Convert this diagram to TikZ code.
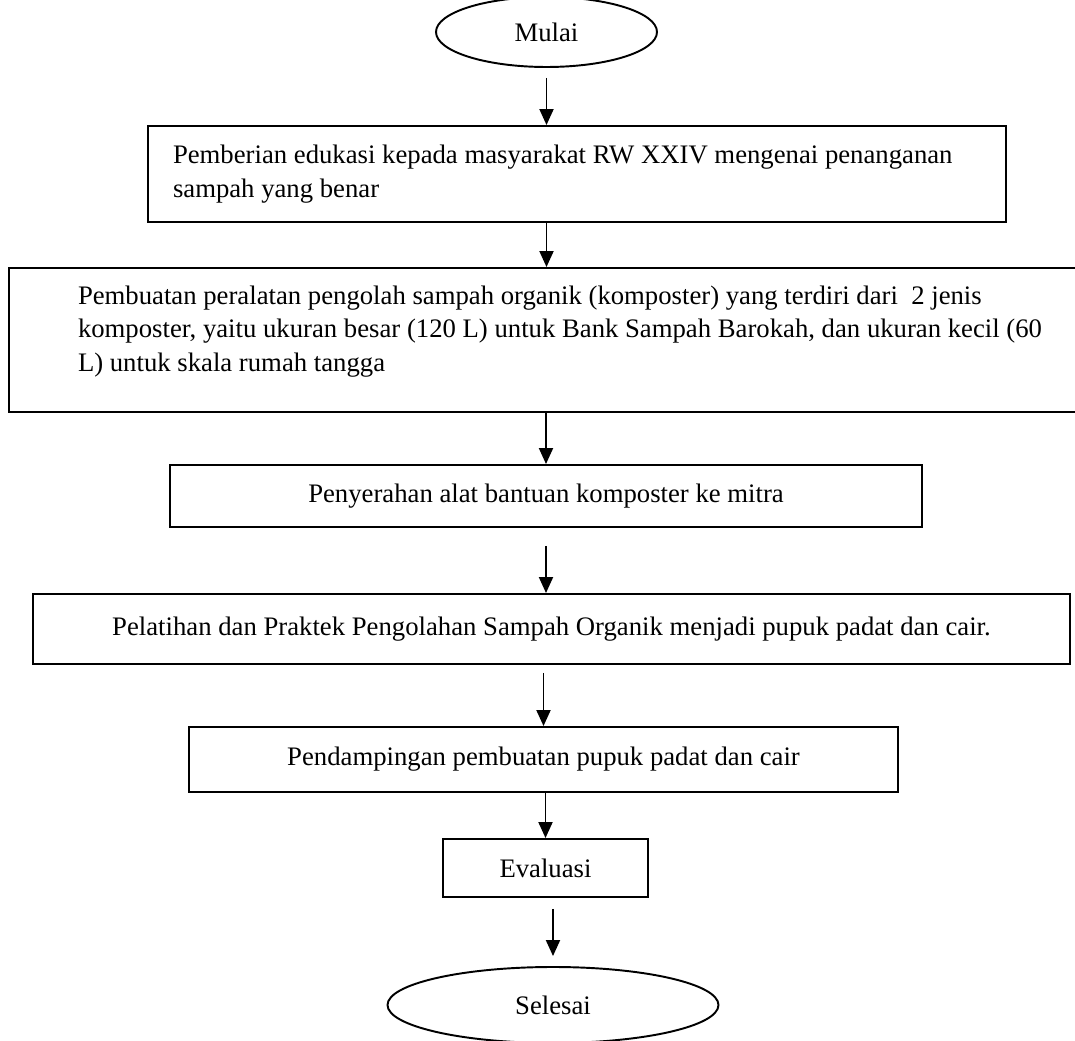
\documentclass[tikz,border=0pt]{standalone}
\usepackage{fontspec}
\setmainfont{Liberation Serif}
\usetikzlibrary{shapes.geometric}
\usetikzlibrary{arrows.meta, positioning}
\tikzset{
    terminal/.style={ellipse, draw, line width=1.1pt, inner sep=0pt},
    process/.style={rectangle, draw, line width=1.1pt, inner sep=0pt},
    flow/.style={line width=1.1pt, -{Triangle[width=0.28cm, length=0.32cm]}}
}

\begin{document}
\begin{tikzpicture}[font=\fontsize{15.2}{19.1}\selectfont]
    % Page size of the reference
    \useasboundingbox (0,0) rectangle (21.5,-20.82);
    \clip (0,0) rectangle (21.5,-20.82);

    % Start and end
    \node[terminal, minimum width=4.42cm, minimum height=1.4cm] (start) at (10.93,-0.64) {Mulai};
    \node[terminal, minimum width=6.62cm, minimum height=1.52cm] (selesai) at (11.06,-20.1) {Selesai};

    % Steps
    \node[process, minimum width=17.16cm, minimum height=1.92cm, inner xsep=0.5cm, text width=16.16cm, align=flush left] (edukasi) at (11.54,-3.48)
        {Pemberian edukasi kepada masyarakat RW XXIV mengenai penanganan\\ sampah yang benar};
    \node[process, minimum width=23.26cm, minimum height=2.88cm, inner xsep=1.38cm, text width=20.5cm, align=flush left] (komposter) at (11.81,-6.8)
        {Pembuatan peralatan pengolah sampah organik (komposter) yang terdiri dari~~2 jenis\\
         komposter, yaitu ukuran besar (120 L) untuk Bank Sampah Barokah, dan ukuran kecil (60\\
         L) untuk skala rumah tangga\par\vspace{0.34cm}\hrule height 0pt};
    \node[process, minimum width=15.04cm, minimum height=1.24cm] (penyerahan) at (10.92,-9.92)
        {Penyerahan alat bantuan komposter ke mitra};
    \node[process, minimum width=20.74cm, minimum height=1.4cm] (pelatihan) at (11.03,-12.58)
        {Pelatihan dan Praktek Pengolahan Sampah Organik menjadi pupuk padat dan cair.};
    \node[process, minimum width=14.18cm, minimum height=1.3cm] (pendampingan) at (10.87,-15.19)
        {Pendampingan pembuatan pupuk padat dan cair};
    \node[process, minimum width=4.1cm, minimum height=1.16cm] (evaluasi) at (10.91,-17.36) {Evaluasi};

    % Arrows
    \draw[flow, shorten <=0.2cm] (start.south) -- (start.south |- edukasi.north);
    \draw[flow] (edukasi.south -| start) -- (komposter.north -| start);
    \draw[flow] (komposter.south -| penyerahan) -- (penyerahan.north);
    \draw[flow, shorten <=0.36cm] (penyerahan.south) -- (pelatihan.north -| penyerahan);
    \draw[flow, shorten <=0.16cm] (pelatihan.south -| pendampingan) -- (pendampingan.north);
    \draw[flow] (pendampingan.south -| evaluasi) -- (evaluasi.north);
    \draw[flow, shorten <=0.22cm, shorten >=0.2cm] (evaluasi.south -| selesai) -- (selesai.north);
\end{tikzpicture}
\end{document}
